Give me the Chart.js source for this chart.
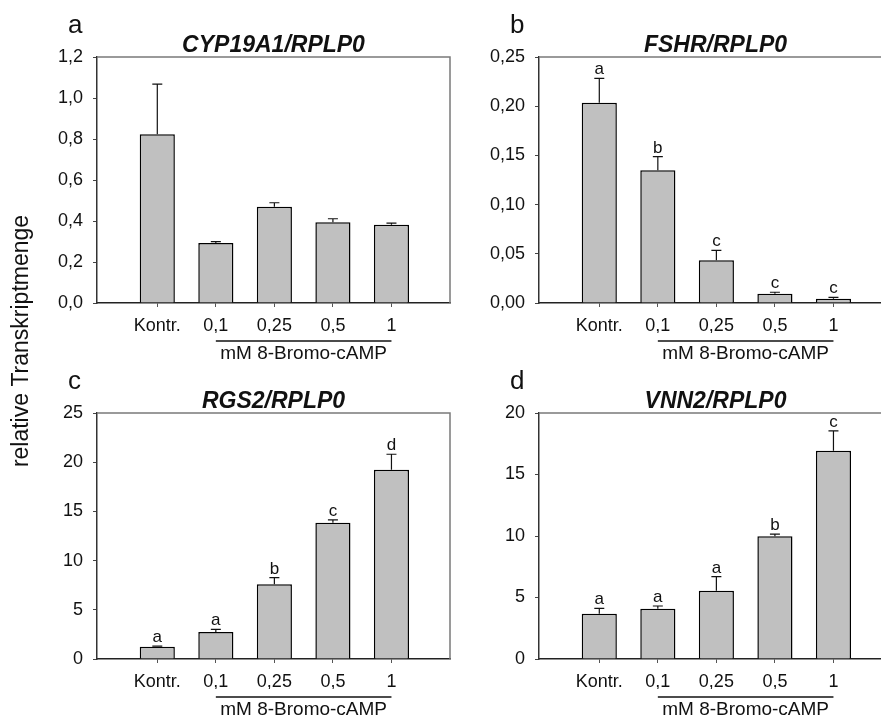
<!DOCTYPE html>
<html>
<head>
<meta charset="utf-8">
<title>8-Bromo-cAMP Transkriptmengen</title>
<script src="https://cdn.jsdelivr.net/npm/chart.js@4.4.1/dist/chart.umd.min.js"></script>
<style>
  html, body { margin: 0; padding: 0; background: #ffffff; width: 881px; height: 720px; overflow: hidden; }
  canvas { position: absolute; }
</style>
</head>
<body>
<canvas id="panelA" width="470" height="720" style="left:0px;top:0px"></canvas>
<canvas id="panelB" width="470" height="380" style="left:440px;top:0px"></canvas>
<canvas id="panelC" width="470" height="360" style="left:0px;top:360px"></canvas>
<canvas id="panelD" width="470" height="360" style="left:440px;top:360px"></canvas>
<script>
// Treatment groups (x axis)
const doseLabels = ['Kontr.', '0,1', '0,25', '0,5', '1'];
const groupLabel = 'mM 8-Bromo-cAMP';
const yAxisLabel = 'relative Transkriptmenge';

// CYP19A1 / RPLP0
const cyp19a1Mean = [0.823, 0.293, 0.470, 0.394, 0.382];
const cyp19a1Err  = [0.245, 0.006, 0.019, 0.017, 0.008];
const cyp19a1Sig  = ['', '', '', '', ''];

// FSHR / RPLP0
const fshrMean = [0.2036, 0.1348, 0.0434, 0.0095, 0.0044];
const fshrErr  = [0.0247, 0.0139, 0.0101, 0.0014, 0.0014];
const fshrSig  = ['a', 'b', 'c', 'c', 'c'];

// RGS2 / RPLP0
const rgs2Mean = [1.25, 2.74, 7.59, 13.85, 19.24];
const rgs2Err  = [0.05, 0.28, 0.68, 0.28, 1.57];
const rgs2Sig  = ['a', 'a', 'b', 'c', 'd'];

// VNN2 / RPLP0
const vnn2Mean = [3.68, 4.09, 5.55, 9.97, 16.94];
const vnn2Err  = [0.44, 0.22, 1.14, 0.19, 1.60];
const vnn2Sig  = ['a', 'a', 'a', 'b', 'c'];

// y-axis ranges and tick steps
const cyp19a1Axis = { max: 1.2, step: 0.2, decimals: 1 };
const fshrAxis    = { max: 0.25, step: 0.05, decimals: 2 };
const rgs2Axis    = { max: 25, step: 5, decimals: 0 };
const vnn2Axis    = { max: 20, step: 5, decimals: 0 };

const FONT = "'Liberation Sans', Arial, Helvetica, sans-serif";
const AXIS_H = 30;

function fmt(v, d) {
  return v.toFixed(d).replace('.', ',');
}

// Draws frame, error bars, significance letters, panel letter, title and group bracket
function decorations(p) {
  return {
    id: 'decor_' + p.letter,
    afterDatasetsDraw(chart) {
      const ctx = chart.ctx;
      const a = chart.chartArea;
      const xs = chart.scales.x, ys = chart.scales.y;
      ctx.save();

      // upper and right frame lines
      ctx.strokeStyle = '#7a7a7a';
      ctx.lineWidth = 1.5;
      ctx.beginPath();
      ctx.moveTo(a.left, a.top);
      ctx.lineTo(a.right, a.top);
      ctx.lineTo(a.right, a.bottom);
      ctx.stroke();

      // error bars (upper only) with caps
      ctx.strokeStyle = '#111';
      ctx.lineWidth = 1.2;
      p.mean.forEach((m, i) => {
        const x = xs.getPixelForValue(i);
        const y0 = ys.getPixelForValue(m);
        const y1 = ys.getPixelForValue(m + p.err[i]);
        ctx.beginPath();
        ctx.moveTo(x, y0);
        ctx.lineTo(x, y1);
        ctx.moveTo(x - 5, y1);
        ctx.lineTo(x + 5, y1);
        ctx.stroke();
        if (p.sig[i]) {
          ctx.fillStyle = '#111';
          ctx.font = '17px ' + FONT;
          ctx.textAlign = 'center';
          ctx.textBaseline = 'alphabetic';
          ctx.fillText(p.sig[i], x, y1 - 4);
        }
      });

      // panel letter
      ctx.fillStyle = '#111';
      ctx.font = '26px ' + FONT;
      ctx.textAlign = 'left';
      ctx.textBaseline = 'alphabetic';
      ctx.fillText(p.letter, a.left - 29, a.top - 24);

      // gene title
      ctx.font = 'italic bold 23px ' + FONT;
      ctx.textAlign = 'center';
      ctx.fillText(p.title, (a.left + a.right) / 2, a.top - 5);

      // bracket under the dose groups
      const xl = xs.getPixelForValue(1), xr = xs.getPixelForValue(doseLabels.length - 1);
      ctx.strokeStyle = '#111';
      ctx.lineWidth = 1.5;
      ctx.beginPath();
      ctx.moveTo(xl, a.bottom + 38);
      ctx.lineTo(xr, a.bottom + 38);
      ctx.stroke();
      ctx.font = '19px ' + FONT;
      ctx.textBaseline = 'middle';
      ctx.fillText(groupLabel, (xl + xr) / 2, a.bottom + 51);

      // shared y-axis caption
      if (p.yCaption) {
        ctx.translate(22, 341);
        ctx.rotate(-Math.PI / 2);
        ctx.font = '23px ' + FONT;
        ctx.textAlign = 'center';
        ctx.textBaseline = 'middle';
        ctx.fillText(yAxisLabel, 0, 0);
      }
      ctx.restore();
    }
  };
}

function makePanel(id, p) {
  const el = document.getElementById(id);
  const W = el.width, H = el.height;
  return new Chart(el, {
    type: 'bar',
    data: {
      datasets: [{
        data: p.mean.map((v, i) => ({ x: i, y: v })),
        backgroundColor: '#c0c0c0',
        borderColor: '#000',
        borderWidth: 1.5,
        barPercentage: 0.6,
        categoryPercentage: 1.0
      }]
    },
    options: {
      responsive: false,
      animation: false,
      devicePixelRatio: 1,
      layout: { padding: { left: 0, top: p.top, right: W - p.right, bottom: H - p.bottom - AXIS_H } },
      plugins: { legend: { display: false }, tooltip: { enabled: false }, title: { display: false } },
      scales: {
        x: {
          type: 'linear',
          offset: false,
          min: -1.03,
          max: 5,
          afterBuildTicks: s => { s.ticks = doseLabels.map((_, i) => ({ value: i })); },
          afterFit: s => { s.height = AXIS_H; },
          ticks: {
            callback: v => doseLabels[v] !== undefined ? doseLabels[v] : '',
            font: { family: FONT, size: 18 },
            color: '#111',
            padding: 8,
            maxRotation: 0,
            autoSkip: false
          },
          grid: { offset: false, drawOnChartArea: false, drawTicks: true, tickLength: 4, color: '#555', lineWidth: 1 },
          border: { color: '#222', width: 1.5 }
        },
        y: {
          min: 0,
          max: p.axis.max,
          afterFit: s => { s.width = p.left; },
          ticks: {
            stepSize: p.axis.step,
            callback: v => fmt(v, p.axis.decimals),
            font: { family: FONT, size: 18 },
            color: '#111',
            padding: 10
          },
          grid: { drawOnChartArea: false, drawTicks: true, tickLength: 4, color: '#444', lineWidth: 1 },
          border: { color: '#333', width: 1.5 }
        }
      }
    },
    plugins: [decorations(p)]
  });
}

makePanel('panelA', {
  letter: 'a', title: 'CYP19A1/RPLP0', mean: cyp19a1Mean, err: cyp19a1Err, sig: cyp19a1Sig,
  axis: cyp19a1Axis, left: 97, right: 450, top: 57, bottom: 303, yCaption: true
});
makePanel('panelB', {
  letter: 'b', title: 'FSHR/RPLP0', mean: fshrMean, err: fshrErr, sig: fshrSig,
  axis: fshrAxis, left: 99, right: 452, top: 57, bottom: 303, yCaption: false
});
makePanel('panelC', {
  letter: 'c', title: 'RGS2/RPLP0', mean: rgs2Mean, err: rgs2Err, sig: rgs2Sig,
  axis: rgs2Axis, left: 97, right: 450, top: 53, bottom: 299, yCaption: false
});
makePanel('panelD', {
  letter: 'd', title: 'VNN2/RPLP0', mean: vnn2Mean, err: vnn2Err, sig: vnn2Sig,
  axis: vnn2Axis, left: 99, right: 452, top: 53, bottom: 299, yCaption: false
});
</script>
</body>
</html>
